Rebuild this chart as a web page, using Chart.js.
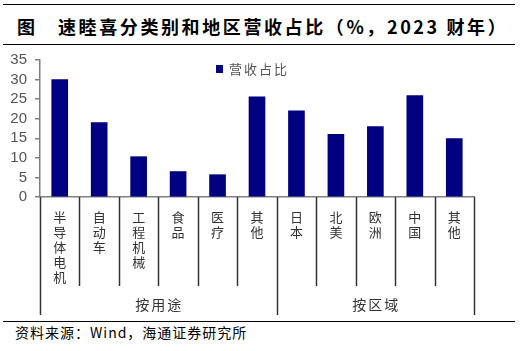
<!DOCTYPE html>
<html>
<head>
<meta charset="utf-8">
<script src="https://cdn.jsdelivr.net/npm/chart.js@4.4.0/dist/chart.umd.min.js"></script>
<style>
body { margin: 0; width: 522px; height: 351px; background: #fff; position: relative; overflow: hidden; font-family: "Noto Sans CJK SC", sans-serif; }
.rule { position: absolute; left: 3px; width: 512px; height: 0; border-top: 1.5px solid #000; }
.title { position: absolute; top: 15px; font-size: 18px; font-weight: bold; letter-spacing: 2.6px; line-height: 22px; color: #000; white-space: nowrap; }
.source { position: absolute; left: 15px; top: 323px; font-size: 14px; letter-spacing: 1px; line-height: 18px; color: #000; white-space: nowrap; }
#wrap { position: absolute; left: 0; top: 0; width: 522px; height: 351px; }
</style>
</head>
<body>
<div class="rule" style="top:4px"></div>
<div class="title" style="left:17px">图</div>
<div class="title" style="left:58px">速睦喜分类别和地区营收占比（%，2023 财年）</div>
<div class="rule" style="top:44px"></div>
<div class="rule" style="top:321px"></div>
<div class="source">资料来源：Wind，海通证券研究所</div>
<div id="wrap"><canvas id="chart"></canvas></div>
<script>
// categories and values
const categories = ['半导体电机', '自动车', '工程机械', '食品', '医疗', '其他', '日本', '北美', '欧洲', '中国', '其他'];
const shares = [30, 19, 10.3, 6.5, 5.7, 25.6, 22, 16, 18, 25.9, 14.9];
const groups = ['按用途', '按区域'];
const groupSizes = [6, 5];
const seriesName = '营收占比';
const yMin = 0, yMax = 35, yStep = 5;

const barColor = '#000080';
const axisColor = '#808080';

// separators, group labels and legend drawn from the x scale
const groupAxis = {
    id: 'groupAxis',
    afterDraw(chart) {
        const ctx = chart.ctx;
        const x = chart.scales.x;
        const half = (x.getPixelForValue(1) - x.getPixelForValue(0)) / 2;
        const top = x.top;
        const bounds = [0];
        groupSizes.forEach(n => bounds.push(bounds[bounds.length - 1] + n));

        ctx.save();
        ctx.strokeStyle = '#333';
        ctx.lineWidth = 1.5;
        for (let i = 0; i <= categories.length; i++) {
            const px = Math.round(x.getPixelForValue(i) - half) + 0.5;
            const len = bounds.includes(i) ? 118 : 89;
            ctx.beginPath();
            ctx.moveTo(px, top);
            ctx.lineTo(px, top + len);
            ctx.stroke();
        }

        ctx.fillStyle = '#333';
        ctx.font = '14px "Noto Sans CJK SC"';
        ctx.textAlign = 'center';
        ctx.textBaseline = 'middle';
        ctx.letterSpacing = '2px';
        groups.forEach((g, k) => {
            const a = x.getPixelForValue(bounds[k]) - half;
            const b = x.getPixelForValue(bounds[k + 1]) - half;
            ctx.fillText(g, (a + b) / 2 + 1, top + 108);
        });

        // legend
        ctx.fillStyle = barColor;
        ctx.fillRect(216, 65, 7, 8);
        ctx.fillStyle = '#555';
        ctx.textAlign = 'left';
        ctx.font = '13px "Noto Sans CJK SC"';
        ctx.fillText(chart.data.datasets[0].label, 229, 69.5);
        ctx.restore();
    }
};

new Chart(document.getElementById('chart'), {
    type: 'bar',
    data: {
        labels: categories.map(s => s.split('')),
        datasets: [{
            label: seriesName,
            data: shares,
            backgroundColor: barColor,
            borderWidth: 0,
            barThickness: 16
        }]
    },
    options: {
        responsive: true,
        maintainAspectRatio: false,
        animation: false,
        layout: { padding: { left: 0, top: 60, right: 48, bottom: 0 } },
        scales: {
            x: {
                afterFit: s => { s.height = 154; },
                grid: { display: false, drawTicks: false },
                border: { display: true, color: axisColor, width: 1.5 },
                ticks: {
                    autoSkip: false,
                    maxRotation: 0,
                    padding: 13,
                    color: '#333',
                    font: { family: '"Noto Sans CJK SC"', size: 13, lineHeight: 1.15 }
                }
            },
            y: {
                min: yMin,
                max: yMax,
                afterFit: s => { s.width = 40; },
                grid: { drawOnChartArea: false, tickLength: 5, color: axisColor, lineWidth: 1.5 },
                border: { display: true, color: axisColor, width: 1.5 },
                ticks: {
                    stepSize: yStep,
                    autoSkip: false,
                    padding: 8,
                    color: '#555',
                    font: { family: '"Liberation Sans"', size: 15 }
                }
            }
        },
        plugins: {
            legend: { display: false },
            title: { display: false },
            tooltip: { enabled: false }
        }
    },
    plugins: [groupAxis]
});
</script>
</body>
</html>
